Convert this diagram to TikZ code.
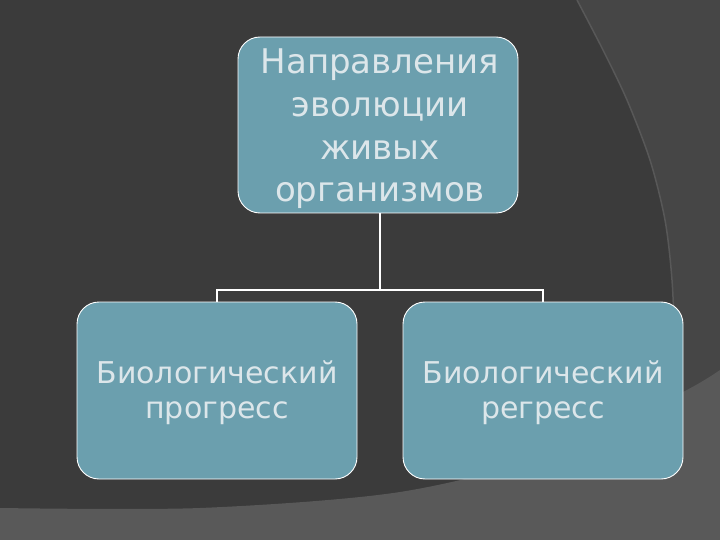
\documentclass[tikz,border=0pt]{standalone}
\usepackage{fontspec}
\setmainfont{DejaVu Sans}
\definecolor{bgdark}{HTML}{3B3B3B}
\definecolor{bgmid}{HTML}{464646}
\definecolor{bglight}{HTML}{595959}
\definecolor{boxfill}{HTML}{6B9FAE}
\definecolor{txt}{HTML}{DCE6EA}
\tikzset{
  boxnode/.style={draw=white, line width=0.9pt, fill=boxfill, rounded corners=22pt, inner sep=0pt},
  boxtext/.style={text=txt, align=center, inner sep=0pt},
  conn/.style={draw=white, line width=1.6pt}
}
\begin{document}
\begin{tikzpicture}[x=1pt,y=-1pt]
\useasboundingbox (0,0) rectangle (720,540);
\fill[bgdark] (0,0) rectangle (720,540);
\fill[bgmid] plot[smooth] coordinates {(577,0) (603,50) (627,100) (650,160) (665,220) (672,280) (675,350) (676,400)} -- (720,400) -- (720,0) -- cycle;
\draw[white!10!bgmid, line width=1.5pt] plot[smooth] coordinates {(577,0) (603,50) (627,100) (650,160) (665,220) (672,280) (675,350) (676,400)};
\fill[bglight] plot[smooth] coordinates {(0,508) (200,508) (400,492) (560,452) (683,392) (720,370)} -- (720,540) -- (0,540) -- cycle;

\node[boxnode, minimum width=280pt, minimum height=176pt] (top) at (378,125) {};
\node[boxtext, font=\fontsize{34}{42.7}\selectfont] (toptext) at (380,129)
  {Направления\\эволюции\\живых\\организмов};
\node[boxnode, minimum width=280pt, minimum height=177pt] (left) at (217,390.5) {};
\node[boxtext, font=\fontsize{30}{35}\selectfont] (lefttext) at (217,393)
  {Биологический\\прогресс};
\node[boxnode, minimum width=280pt, minimum height=177pt] (right) at (543,390.5) {};
\node[boxtext, font=\fontsize{30}{35}\selectfont] (righttext) at (543,393)
  {Биологический\\регресс};

\coordinate (mid) at (380,290);
\draw[conn] (top.south -| mid) -- (mid);
\draw[conn] (mid) -- (mid -| left.north) -- (left.north);
\draw[conn] (mid) -- (mid -| right.north) -- (right.north);
\end{tikzpicture}
\end{document}
